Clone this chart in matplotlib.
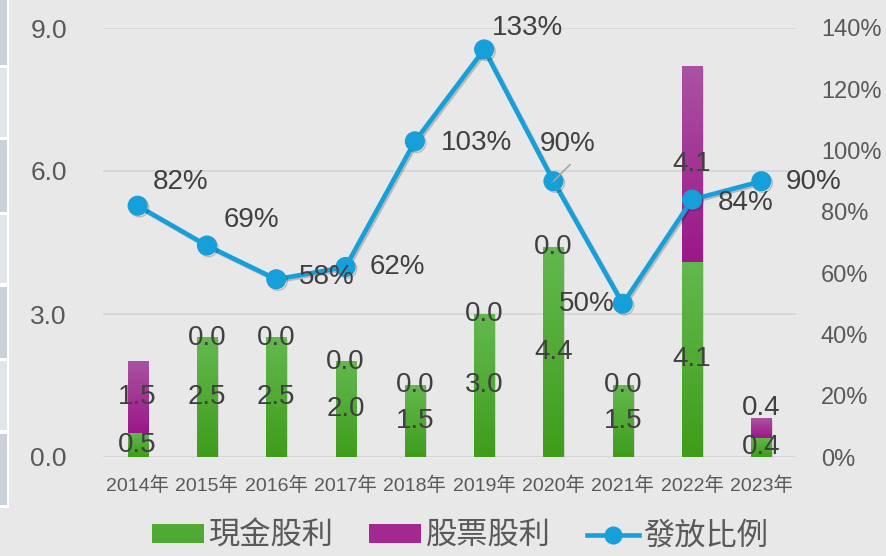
import numpy as np
import matplotlib
matplotlib.use("Agg")
import matplotlib.pyplot as plt
from matplotlib.patches import Rectangle, Patch
from matplotlib.lines import Line2D
from matplotlib.colors import LinearSegmentedColormap
import matplotlib.patheffects as pe

plt.rcParams['font.family'] = ['Liberation Sans', 'Noto Sans CJK TC', 'DejaVu Sans']

# ---------------- data ----------------
years = ['2014年', '2015年', '2016年', '2017年', '2018年', '2019年', '2020年', '2021年', '2022年', '2023年']
cash_div = [0.5, 2.5, 2.5, 2.0, 1.5, 3.0, 4.4, 1.5, 4.1, 0.4]
stock_div = [1.5, 0.0, 0.0, 0.0, 0.0, 0.0, 0.0, 0.0, 4.1, 0.4]
payout = [0.82, 0.69, 0.58, 0.62, 1.03, 1.33, 0.90, 0.50, 0.84, 0.90]
left_ticks = [0.0, 3.0, 6.0, 9.0]
right_ticks = [0.0, 0.2, 0.4, 0.6, 0.8, 1.0, 1.2, 1.4]
legend_labels = ['現金股利', '股票股利', '發放比例']

# label offsets (pixels, x right / y up) for payout labels, and alignments
pay_off = [(15, 24), (17, 26), (23, 2), (24, 0), (26, -2), (8, 21), (-14, 37), (-8, 0), (26, -3), (24, -1)]
pay_ha = ['left'] * 6 + ['left', 'right', 'left', 'left']
stock_lab_off = [0, 0, 0, 0, 0, 0, 0, 0, 0, 20]

# ---------------- style ----------------
W, H = 887, 556
DPI = 100
BG = '#e8e8e8'
GRID = '#d6d6d6'
TICK_C = '#595959'
LAB_C = '#404040'
LINE_C = '#179fd9'
GREEN_TOP, GREEN_BOT = '#63b84f', '#3f9d1b'
PURP_TOP, PURP_BOT = '#aa52a1', '#9b1888'

fig = plt.figure(figsize=(W / DPI, H / DPI), dpi=DPI, facecolor=BG)

# left decorative strip
fig.patches.append(Rectangle((0, 1 - 508 / H), 9 / W, 508 / H, transform=fig.transFigure,
                             facecolor='white', edgecolor='none'))
boxes = [(0, 65), (68, 137), (140, 212), (215, 283), (287, 358), (361, 430), (434, 505)]
for k, (t, b) in enumerate(boxes):
    fig.patches.append(Rectangle((0, 1 - b / H), 7 / W, (b - t) / H, transform=fig.transFigure,
                                 facecolor='#cbd1db' if k % 2 == 0 else '#e1e5ea', edgecolor='none'))

ax = fig.add_axes([103 / W, 1 - 457 / H, 693 / W, 429 / H])
ax.set_facecolor('none')
x = np.arange(len(years))

ax.set_xlim(-0.5, len(years) - 0.5)
ax.set_ylim(0, 9)
for s in ax.spines.values():
    s.set_visible(False)
ax.set_yticks(left_ticks)
ax.set_yticklabels([f'{v:.1f}' for v in left_ticks])
ax.tick_params(axis='y', length=0, pad=26, labelsize=19, labelcolor=TICK_C)
ax.set_xticks(x)
ax.set_xticklabels(years)
ax.tick_params(axis='x', length=0, pad=14, labelsize=14, labelcolor=TICK_C)
ax.yaxis.grid(True, color=GRID, linewidth=1.3)
ax.set_axisbelow(True)

bw = 0.29
b1 = ax.bar(x, cash_div, width=bw, color='none', edgecolor='none', zorder=2)
b2 = ax.bar(x, stock_div, width=bw, bottom=cash_div, color='none', edgecolor='none', zorder=2)

grad = np.linspace(0, 1, 100).reshape(-1, 1)
cm_g = LinearSegmentedColormap.from_list('g', [GREEN_BOT, GREEN_TOP])
cm_p = LinearSegmentedColormap.from_list('p', [PURP_BOT, PURP_TOP])
for bars, cm in ((b1, cm_g), (b2, cm_p)):
    for r in bars:
        x0, y0 = r.get_x(), r.get_y()
        w, h = r.get_width(), r.get_height()
        if h <= 0:
            continue
        sh = Rectangle((x0 + 0.025, y0 - 0.03), w, h, facecolor='black', alpha=0.10,
                       edgecolor='none', zorder=1.5)
        ax.add_patch(sh)
        ax.imshow(grad, extent=[x0, x0 + w, y0, y0 + h], origin='lower', aspect='auto',
                  cmap=cm, zorder=2, interpolation='bicubic')
ax.set_xlim(-0.5, len(years) - 0.5)
ax.set_ylim(0, 9)

# bar labels
for i in range(len(years)):
    ax.annotate(f'{cash_div[i]:.1f}', (x[i], cash_div[i] / 2), ha='center', va='center',
                fontsize=20, color=LAB_C, zorder=5)
    ax.annotate(f'{stock_div[i]:.1f}', (x[i], cash_div[i] + stock_div[i] / 2),
                xytext=(0, stock_lab_off[i] * 0.72), textcoords='offset points',
                ha='center', va='center', fontsize=20, color=LAB_C, zorder=5)

# payout line on right axis
ax2 = ax.twinx()
ax2.set_ylim(0, 1.4)
for s in ax2.spines.values():
    s.set_visible(False)
ax2.set_yticks(right_ticks)
ax2.set_yticklabels([f'{round(v * 100)}%' for v in right_ticks])
ax2.tick_params(axis='y', length=0, pad=18, labelsize=17, labelcolor=TICK_C)
ax2.plot(x, payout, color=LINE_C, linewidth=3.3, marker='o', markersize=13.5,
         markerfacecolor=LINE_C, markeredgecolor=LINE_C, zorder=4,
         path_effects=[pe.SimpleLineShadow(offset=(1.2, -1.2), alpha=0.2), pe.Normal()])

for i in range(len(years)):
    dx, dy = pay_off[i]
    ax2.annotate(f'{round(payout[i] * 100)}%', (x[i], payout[i]),
                 xytext=(dx * 0.72, dy * 0.72), textcoords='offset points',
                 ha=pay_ha[i], va='center', fontsize=20, color=LAB_C, zorder=6)
# leader line for 2020 label
ax2.annotate('', (x[6], payout[6]), xytext=(12, 12), textcoords='offset points',
             arrowprops=dict(arrowstyle='-', color='#a6a6a6', lw=1.2, shrinkA=0, shrinkB=0), zorder=6)

handles = [Patch(facecolor='#4fa933', edgecolor='none'),
           Patch(facecolor='#a2298f', edgecolor='none'),
           Line2D([0], [0], color=LINE_C, linewidth=3.3, marker='o', markersize=12)]
leg = fig.legend(handles, legend_labels, loc='center', bbox_to_anchor=(460 / W, 19 / H),
                 ncol=3, frameon=False, fontsize=22.5, labelcolor=TICK_C,
                 handlelength=1.66, handleheight=0.56, handletextpad=0.15, columnspacing=1.15,
                 borderpad=0.1)

fig.savefig('out.png', dpi=DPI, facecolor=BG)
